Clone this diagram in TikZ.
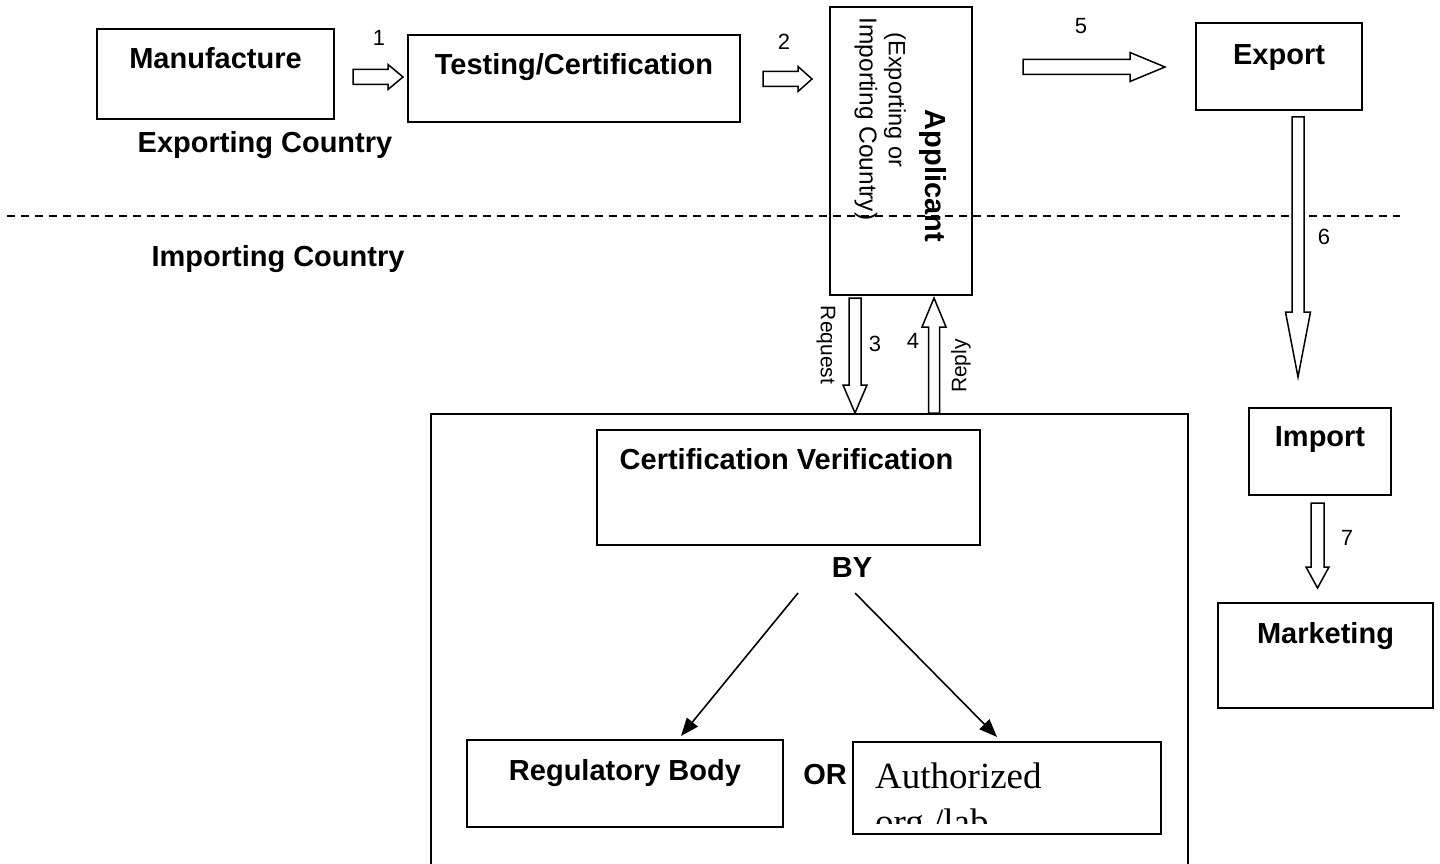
\documentclass[tikz,border=0pt]{standalone}
\usepackage{fontspec}
\setmainfont{Liberation Sans}
\newfontfamily\serifft{Liberation Serif}
\usetikzlibrary{arrows.meta,calc,positioning}

\tikzset{
  box/.style={draw,line width=1.6pt,inner sep=0pt,outer sep=0pt},
  btxt/.style={font=\bfseries\fontsize{29}{34}\selectfont,inner sep=0pt,anchor=base},
  ntxt/.style={font=\fontsize{22}{26}\selectfont,inner sep=0pt},
  rtxt/.style={font=\fontsize{23.5}{28}\selectfont,inner sep=0pt},
  blockarr/.style={draw,fill=white,line width=1.5pt,line join=miter},
  thinarr/.style={line width=1.6pt,-{Triangle[length=18pt,width=14pt]}},
  divider/.style={line width=1.8pt,dash pattern=on 8pt off 6pt},
}

% hollow block arrow: from, to, shaft half width, head half width, head length
\newcommand{\blockarrow}[5]{%
  \draw[blockarr] let \p1=(#1), \p2=(#2),
    \n1={atan2(\y2-\y1,\x2-\x1)}, \n2={veclen(\x2-\x1,\y2-\y1)} in
    [shift={(\p1)},rotate=\n1]
    (0pt,#3pt) -- ({\n2-#5pt},#3pt) -- ({\n2-#5pt},#4pt) -- (\n2,0pt)
    -- ({\n2-#5pt},-#4pt) -- ({\n2-#5pt},-#3pt) -- (0pt,-#3pt) -- cycle;}

\begin{document}
\begin{tikzpicture}[x=1pt,y=-1pt]
\clip (0,0) rectangle (1440,864);
\coordinate (dl) at (7,216);
\coordinate (dr) at (1400,216);
\coordinate (a1s) at (353,77);
\coordinate (a1e) at (403,77);
\coordinate (a2s) at (763,79);
\coordinate (a2e) at (812,79);
\coordinate (a3s) at (855,298);
\coordinate (a3e) at (855,413);
\coordinate (a4s) at (934,413);
\coordinate (a4e) at (934,298);
\coordinate (a5s) at (1023,67);
\coordinate (a5e) at (1165,67);
\coordinate (a6s) at (1298,117);
\coordinate (a6e) at (1298,377);
\coordinate (a7s) at (1317.5,503);
\coordinate (a7e) at (1317.5,588);
\coordinate (byl) at (798,593);
\coordinate (byr) at (855,593);
\coordinate (regtip) at (681,736);
\coordinate (authtip) at (997,737);

% country divider
\draw[divider] (dl) -- (dr);

% boxes
\node[box,minimum width=237pt,minimum height=90pt] (manu) at (215.5,74) {};
\node[box,minimum width=332pt,minimum height=87pt] (test) at (574,78.5) {};
\node[box,minimum width=142pt,minimum height=288pt] (appl) at (901,151) {};
\node[box,minimum width=166pt,minimum height=87pt] (export) at (1279,66.5) {};
\node[box,minimum width=142pt,minimum height=87pt] (import) at (1320,451.5) {};
\node[box,minimum width=215pt,minimum height=105pt] (market) at (1325.5,655.5) {};
\node[box,minimum width=757pt,minimum height=490pt] (verif) at (809.5,659) {};
\node[box,minimum width=383pt,minimum height=115pt] (certv) at (788.5,487.5) {};
\node[box,minimum width=316pt,minimum height=87pt] (regb) at (625,783.5) {};
\node[box,minimum width=308pt,minimum height=92pt] (auth) at (1007,788) {};

% box texts
\node[btxt] (manuT) at ([yshift=-40pt]manu.north) {Manufacture};
\node[btxt] (testT) at ([yshift=-40pt]test.north) {Testing/Certification};
\node[btxt] (exportT) at ([yshift=-42pt]export.north) {Export};
\node[btxt] (importT) at ([yshift=-38pt]import.north) {Import};
\node[btxt] (marketT) at ([yshift=-40pt]market.north) {Marketing};
\node[btxt] (certvT) at ([xshift=-2pt,yshift=-39pt]certv.north) {Certification Verification};
\node[btxt] (regbT) at ([yshift=-40pt]regb.north) {Regulatory Body};
\begin{scope}
\clip (853,742) rectangle (1161,823);
\node[anchor=base west,inner sep=0pt,font=\serifft\fontsize{37}{46}\selectfont] (authT1) at (875,788) {Authorized};
\node[anchor=base west,inner sep=0pt,font=\serifft\fontsize{37}{46}\selectfont] (authT2) at (875,834) {org /lab};
\end{scope}
\node[btxt,rotate=-90,anchor=center] (applT) at (933,176) {Applicant};
\node[rtxt,rotate=-90] (applT2) at (895,100) {(Exporting or};
\node[rtxt,rotate=-90,font=\fontsize{24.5}{28}\selectfont] (applT3) at (866,119) {Importing Country)};

% free labels
\node[btxt] (expC) at (265,153) {Exporting Country};
\node[btxt] (impC) at (278,266) {Importing Country};
\node[btxt] (by) at (852,577) {BY};
\node[btxt] (or) at (825,784) {OR};

% flow arrows
\foreach \s/\e/\w/\hw/\hl in {a1s/a1e/7.5/12.5/15, a2s/a2e/7.5/12.5/14, a3s/a3e/6/12/28,
    a4s/a4e/5.5/12/29, a5s/a5e/7.5/14.5/35, a6s/a6e/6/12.5/65, a7s/a7e/6.5/11.5/21}
  \blockarrow{\s}{\e}{\w}{\hw}{\hl};
\draw[thinarr] (byl) -- (regtip);
\draw[thinarr] (byr) -- (authtip);

% step numbers
\node[ntxt] (n1) at (379,38) {1};
\node[ntxt] (n2) at (784,42) {2};
\node[ntxt] (n3) at (875,344) {3};
\node[ntxt] (n4) at (913,341) {4};
\node[ntxt] (n5) at (1081,26) {5};
\node[ntxt] (n6) at (1324,237) {6};
\node[ntxt] (n7) at (1347,538) {7};
\node[ntxt,font=\fontsize{21}{25}\selectfont,rotate=-90] (req) at (826,345) {Request};
\node[ntxt,font=\fontsize{21}{25}\selectfont,rotate=90] (rep) at (961,366) {Reply};
\end{tikzpicture}
\end{document}
